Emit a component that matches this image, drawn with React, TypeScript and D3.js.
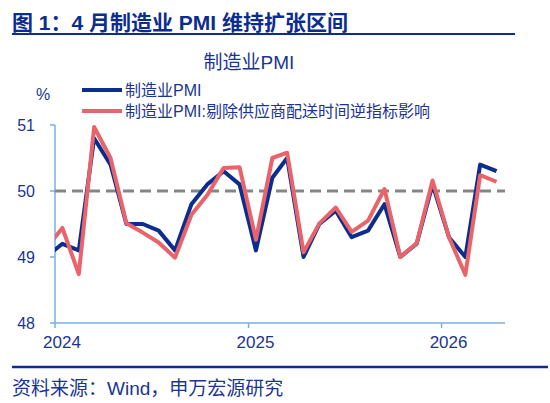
import React from 'react';
import * as d3 from 'd3';

// monthly, Dec 2023 .. Apr 2026 (first point is clipped at the axis)
const months = [
  '2023-12',
  '2024-01', '2024-02', '2024-03', '2024-04', '2024-05', '2024-06',
  '2024-07', '2024-08', '2024-09', '2024-10', '2024-11', '2024-12',
  '2025-01', '2025-02', '2025-03', '2025-04', '2025-05', '2025-06',
  '2025-07', '2025-08', '2025-09', '2025-10', '2025-11', '2025-12',
  '2026-01', '2026-02', '2026-03', '2026-04',
];

const pmi = [
  49.0,
  49.2, 49.1, 50.8, 50.4, 49.5, 49.5, 49.4, 49.1, 49.8, 50.1, 50.3, 50.1,
  49.1, 50.2, 50.5, 49.0, 49.5, 49.7, 49.3, 49.4, 49.8, 49.0, 49.2, 50.1,
  49.3, 49.0, 50.4, 50.3,
];

const pmiAdj = [
  49.13,
  49.44, 48.74, 50.97, 50.5, 49.51, 49.37, 49.22, 48.99, 49.64, 49.94, 50.35, 50.36,
  49.26, 50.5, 50.58, 49.07, 49.51, 49.75, 49.38, 49.55, 50.03, 49.0, 49.21, 50.16,
  49.3, 48.73, 50.24, 50.14,
];

const yTicks = [48, 49, 50, 51];
const xTickYears = [2024, 2025, 2026];
const seriesNames = ['制造业PMI', '制造业PMI:剔除供应商配送时间逆指标影响'];

const W = 550;
const H = 403;
const NAVY = '#0b2d8e';
const RED = '#e8636a';
const AXIS = '#7aaee0';
const TXT = '#1a3591';
const FONT = '"Liberation Sans", Arial, "Noto Sans CJK SC", sans-serif';

const App: React.FC = () => {
  const plot = { left: 55, right: 505, top: 125, bottom: 323 };

  const parse = (m: string) => {
    const [y, mo] = m.split('-').map(Number);
    return new Date(y, mo - 1, 15);
  };
  const dates = months.map(parse);

  const x = d3.scaleTime()
    .domain([new Date(2024, 0, 1), new Date(2026, 4, 1)])
    .range([plot.left, plot.right]);

  const y = d3.scaleLinear()
    .domain([48, 51])
    .range([plot.bottom, plot.top]);

  const line = d3.line<number>()
    .x((_, i) => x(dates[i]))
    .y(d => y(d));

  return (
    <svg
      width={W}
      height={H}
      viewBox={`0 0 ${W} ${H}`}
      style={{ position: 'absolute', left: 0, top: 0, background: '#fff' }}
      fontFamily={FONT}
    >
      <defs>
        <clipPath id="plotClip">
          <rect x={plot.left} y={0} width={plot.right - plot.left + 10} height={H} />
        </clipPath>
      </defs>

      {/* header */}
      <text x={12} y={30} fontSize={21} fontWeight="bold" fill={NAVY}>
        图 1：4 月制造业 PMI 维持扩张区间
      </text>
      <line x1={12} x2={515} y1={34} y2={34} stroke={NAVY} strokeWidth={2} />

      <text x={249} y={69} fontSize={19} fill={TXT} textAnchor="middle">制造业PMI</text>
      <text x={43} y={100} fontSize={16} fill={TXT} textAnchor="middle">%</text>

      {/* legend */}
      <line x1={82} x2={122} y1={90} y2={90} stroke={NAVY} strokeWidth={4} />
      <text x={125} y={96} fontSize={16} fill={TXT}>{seriesNames[0]}</text>
      <line x1={82} x2={122} y1={111} y2={111} stroke={RED} strokeWidth={4} />
      <text x={125} y={117} fontSize={16} fill={TXT}>{seriesNames[1]}</text>

      {/* y axis */}
      <line x1={plot.left} x2={plot.left} y1={plot.top} y2={plot.bottom} stroke={AXIS} strokeWidth={1.5} />
      {yTicks.map(t => (
        <g key={t}>
          <line x1={plot.left - 5} x2={plot.left} y1={y(t)} y2={y(t)} stroke={AXIS} strokeWidth={1.5} />
          <text x={35} y={y(t) + 6} fontSize={16} fill={TXT} textAnchor="end">{t}</text>
        </g>
      ))}

      {/* x axis */}
      <line x1={plot.left} x2={plot.right} y1={plot.bottom} y2={plot.bottom} stroke={AXIS} strokeWidth={1.5} />
      {xTickYears.map(yr => {
        const px = x(new Date(yr, 0, 1));
        return (
          <g key={yr}>
            <line x1={px} x2={px} y1={plot.bottom} y2={plot.bottom + 5} stroke={AXIS} strokeWidth={1.5} />
            <text x={px + 7} y={348} fontSize={17} fill={TXT} textAnchor="middle">{yr}</text>
          </g>
        );
      })}

      {/* 50 reference line */}
      <line
        x1={plot.left}
        x2={plot.right}
        y1={y(50)}
        y2={y(50)}
        stroke="#858585"
        strokeWidth={3}
        strokeDasharray="11 6"
      />

      <g clipPath="url(#plotClip)" fill="none" strokeLinejoin="round">
        <path d={line(pmi) || ''} stroke={NAVY} strokeWidth={4} />
        <path d={line(pmiAdj) || ''} stroke={RED} strokeWidth={4} />
      </g>

      {/* footer */}
      <line x1={12} x2={548} y1={367} y2={367} stroke={NAVY} strokeWidth={2.5} />
      <text x={12} y={395} fontSize={19} fill={TXT}>资料来源：Wind，申万宏源研究</text>
    </svg>
  );
};

export default App;
